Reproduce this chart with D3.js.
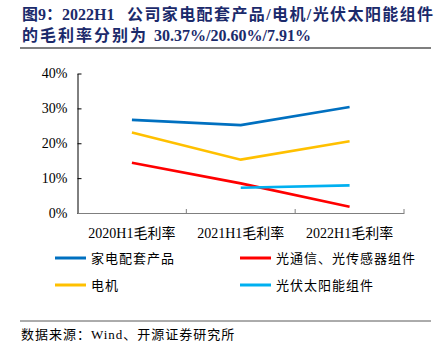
<!DOCTYPE html>
<html>
<head>
<meta charset="utf-8">
<script src="https://cdn.jsdelivr.net/npm/d3@7"></script>
<style>
  body { margin: 0; background: #fff; }
  svg { display: block; }
</style>
</head>
<body>
<div id="chart"></div>
<script>
const categories = ['2020H1毛利率', '2021H1毛利率', '2022H1毛利率']
const seriesNames = ['家电配套产品', '光通信、光传感器组件', '电机', '光伏太阳能组件']
const seriesColors = ['#0070C0', '#FF0000', '#FFC000', '#00B0F0']
const appliance = [26.7, 25.2, 30.37]
const optical = [14.4, 8.5, 1.8]
const motor = [23.1, 15.3, 20.6]
const solar = [null, 7.25, 7.91]
const yTicks = [0, 10, 20, 30, 40]

const seriesValues = [appliance, optical, motor, solar]

const width = 441
const height = 351
const serif = '"Liberation Serif", "Times New Roman", "Noto Sans CJK SC", serif'
const cjk = '"Liberation Serif", "Noto Sans CJK SC", serif'

const svg = d3.select('#chart').append('svg')
  .attr('width', width).attr('height', height)

// title
const title = svg.append('g')
  .attr('font-family', cjk)
  .attr('font-weight', 'bold')
  .attr('font-size', 16)
  .attr('fill', '#1b2a6b')
const t1 = title.append('text').attr('x', 22).attr('y', 20)
t1.append('tspan').text('图9：2022H1')
t1.append('tspan').attr('x', 127).attr('letter-spacing', 1.4).text('公司家电配套产品/电机/光伏太阳能组件')
const t2 = title.append('text').attr('x', 22).attr('y', 41)
t2.append('tspan').attr('letter-spacing', 2).text('的毛利率分别为 ')
t2.append('tspan').text('30.37%/20.60%/7.91%')

svg.append('line')
  .attr('x1', 20).attr('x2', 431).attr('y1', 48).attr('y2', 48)
  .attr('stroke', '#7f7f7f').attr('stroke-width', 2)

const x = d3.scaleBand().domain(categories).range([77.5, 404]).padding(0)
const y = d3.scaleLinear().domain([0, 40]).range([213, 73.5])

const gy = svg.append('g')
  .attr('transform', 'translate(77.5,0)')
  .call(d3.axisLeft(y).tickValues(yTicks).tickFormat((d) => d + '%').tickSize(4).tickSizeOuter(0))
gy.select('.domain').attr('stroke', '#000')
gy.selectAll('line').attr('stroke', '#000').attr('x2', 4)
gy.selectAll('text')
  .attr('font-family', serif).attr('font-size', 14).attr('fill', '#000')
  .attr('x', -10)

const gx = svg.append('g')
  .attr('transform', 'translate(0,213)')
  .call(d3.axisBottom(x).tickSize(0).tickSizeOuter(0))
gx.select('.domain').attr('stroke', '#7f7f7f')
gx.selectAll('text')
  .attr('font-family', cjk).attr('font-size', 14).attr('fill', '#000')
  .attr('dy', 0).attr('y', 25)
// category boundary ticks
gx.selectAll('.sep')
  .data([...categories.slice(1), null])
  .join('line')
  .attr('class', 'sep')
  .attr('x1', (d) => d ? x(d) : x.range()[1])
  .attr('x2', (d) => d ? x(d) : x.range()[1])
  .attr('y1', 0).attr('y2', -4)
  .attr('stroke', '#7f7f7f')

const line = d3.line()
  .defined((d) => d != null)
  .x((d, i) => x(categories[i]) + x.bandwidth() / 2)
  .y((d) => y(d))

svg.append('g').selectAll('path')
  .data(seriesValues)
  .join('path')
  .attr('d', (d) => line(d))
  .attr('fill', 'none')
  .attr('stroke', (d, i) => seriesColors[i])
  .attr('stroke-width', 2.6)

// legend
const legendPos = [[55, 258], [240, 258], [55, 285], [240, 285]]
const lg = svg.append('g').selectAll('g')
  .data(seriesNames)
  .join('g')
  .attr('transform', (d, i) => `translate(${legendPos[i][0]},${legendPos[i][1]})`)
lg.append('line')
  .attr('x1', 0).attr('x2', 31).attr('y1', 0).attr('y2', 0)
  .attr('stroke', (d, i) => seriesColors[i]).attr('stroke-width', 3)
lg.append('text')
  .attr('x', 36).attr('y', 5)
  .attr('font-family', cjk).attr('font-size', 13).attr('fill', '#000')
  .attr('letter-spacing', 1)
  .text((d) => d)

svg.append('line')
  .attr('x1', 20).attr('x2', 431).attr('y1', 321).attr('y2', 321)
  .attr('stroke', '#595959').attr('stroke-width', 1)

svg.append('text')
  .attr('x', 21).attr('y', 339)
  .attr('font-family', cjk).attr('font-size', 13).attr('fill', '#000')
  .attr('letter-spacing', 1)
  .text('数据来源：Wind、开源证券研究所')
</script>
</body>
</html>
